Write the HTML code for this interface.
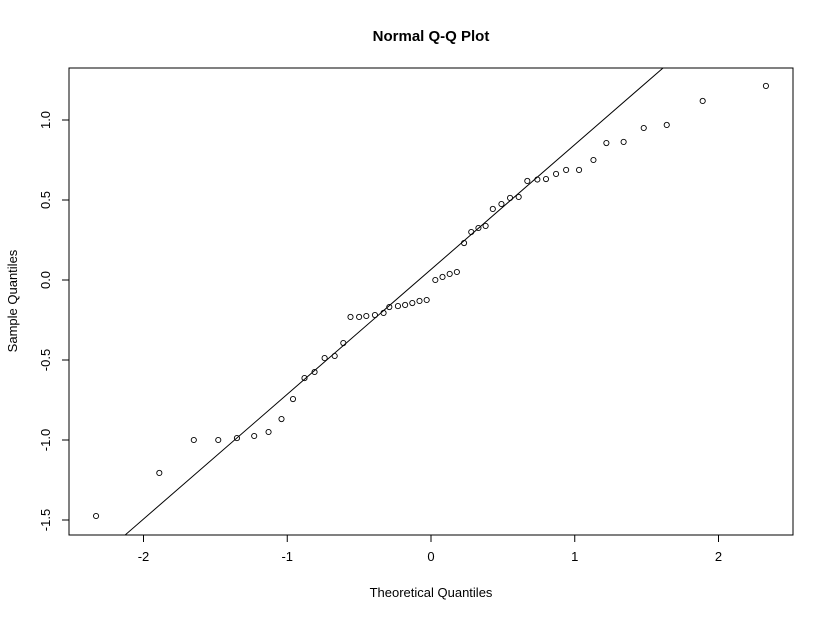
<!DOCTYPE html>
<html><head><meta charset="utf-8"><style>
body{margin:0;background:#fff}
svg{display:block;font-family:"Liberation Sans",Arial,sans-serif}
</style></head><body>
<svg id="chart" width="829" height="619">
<text x="431" y="41" text-anchor="middle" font-weight="bold" font-size="15">Normal Q-Q Plot</text>
<rect x="69" y="68" width="724" height="467" fill="none" stroke="#000"/>
<g id="xaxis"></g>
<g id="yaxis"></g>
<text x="431" y="597" text-anchor="middle" font-size="13">Theoretical Quantiles</text>
<text transform="translate(17,301) rotate(-90)" text-anchor="middle" font-size="13">Sample Quantiles</text>
<g id="marks"></g>
</svg>
<script>
const theoretical=[-2.33,-1.89,-1.65,-1.48,-1.35,-1.23,-1.13,-1.04,-0.96,-0.88,-0.81,-0.74,-0.67,-0.61,-0.56,-0.50,-0.45,-0.39,-0.33,-0.29,-0.23,-0.18,-0.13,-0.08,-0.03,0.03,0.08,0.13,0.18,0.23,0.28,0.33,0.38,0.43,0.49,0.55,0.61,0.67,0.74,0.80,0.87,0.94,1.03,1.13,1.22,1.34,1.48,1.64,1.89,2.33];
const sample=[-1.475,-1.206,-1.0,-1.0,-0.988,-0.975,-0.95,-0.869,-0.744,-0.613,-0.575,-0.488,-0.475,-0.394,-0.231,-0.231,-0.225,-0.219,-0.206,-0.169,-0.163,-0.156,-0.144,-0.131,-0.125,0,0.019,0.038,0.05,0.231,0.3,0.325,0.338,0.444,0.475,0.513,0.519,0.619,0.628,0.631,0.663,0.688,0.688,0.75,0.856,0.863,0.95,0.969,1.119,1.213];
const xTicks=[-2,-1,0,1,2];
const yTicks=[-1.5,-1.0,-0.5,0.0,0.5,1.0];
const yTickLabels=["-1.5","-1.0","-0.5","0.0","0.5","1.0"];
const lineIntercept=0.066;
const lineSlope=0.78;
const NS="http://www.w3.org/2000/svg";
const L=69,R=793,T=68,B=535;
const sx=v=>431+v*143.75, sy=v=>280-v*160;
function mk(tag,attrs,parent){const e=document.createElementNS(NS,tag);for(const k in attrs)e.setAttribute(k,attrs[k]);parent.appendChild(e);return e;}
const xa=document.getElementById('xaxis'),ya=document.getElementById('yaxis'),mg=document.getElementById('marks');
mk('line',{x1:sx(xTicks[0]),x2:sx(xTicks[xTicks.length-1]),y1:B,y2:B,stroke:'#000'},xa);
xTicks.forEach(t=>{mk('line',{x1:sx(t),x2:sx(t),y1:B,y2:B+7,stroke:'#000'},xa);
const tx=mk('text',{x:sx(t),y:B+26,'text-anchor':'middle','font-size':13},xa);tx.textContent=t;

});
mk('line',{x1:L,x2:L,y1:sy(yTicks[0]),y2:sy(yTicks[yTicks.length-1]),stroke:'#000'},ya);
yTicks.forEach((t,i)=>{mk('line',{x1:L-7,x2:L,y1:sy(t),y2:sy(t),stroke:'#000'},ya);
const tx=mk('text',{transform:`translate(${L-19},${sy(t)}) rotate(-90)`,'text-anchor':'middle','font-size':13},ya);tx.textContent=yTickLabels[i];

});
// reference line clipped to plot
const clip=mk('clipPath',{id:'pc'},document.getElementById('chart'));mk('rect',{x:L,y:T,width:R-L,height:B-T},clip);
const x0=-3,x1=3;
const ln=mk('line',{x1:sx(x0),y1:sy(lineIntercept+lineSlope*x0),x2:sx(x1),y2:sy(lineIntercept+lineSlope*x1),stroke:'#000','clip-path':'url(#pc)'},mg);


theoretical.forEach((x,i)=>{const c=mk('circle',{cx:sx(x),cy:sy(sample[i]),r:2.6,fill:'none',stroke:'#000','stroke-width':0.9},mg);

});
</script>
</body></html>
